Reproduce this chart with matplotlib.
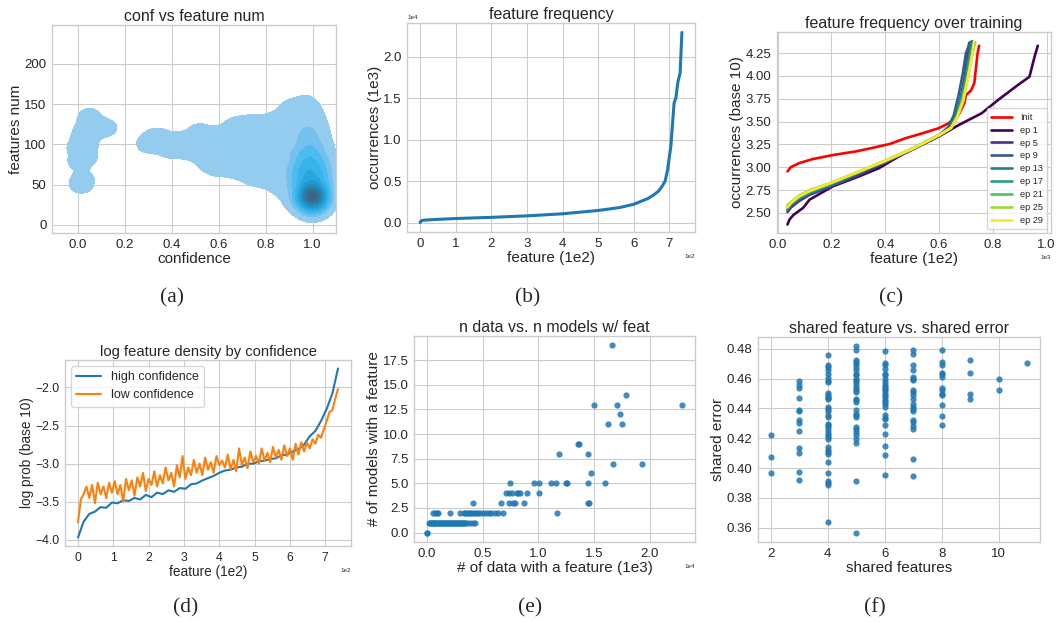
import numpy as np
import matplotlib
matplotlib.use('Agg')
import matplotlib.pyplot as plt
from matplotlib.ticker import MultipleLocator

# ---------------- data ----------------
# (a) conf vs feature num -- sample points for the density estimate
core_conf = [1.0, 0.99, 0.985, 0.97]
core_feat = [35, 60, 95, 140]
core_weight = [40, 10, 3, 0.5]
core_bw_conf = [0.035, 0.05, 0.045, 0.04]
core_bw_feat = [10, 18, 25, 15]
tail_conf = [0.30, 0.32, 0.34, 0.37, 0.40, 0.42, 0.45, 0.48, 0.49, 0.52, 0.53, 0.55, 0.57,
             0.59, 0.60, 0.62, 0.64, 0.65, 0.67, 0.69, 0.70, 0.71, 0.73, 0.75, 0.76, 0.77,
             0.78, 0.80, 0.81, 0.82, 0.83, 0.84, 0.86, 0.87, 0.88, 0.89, 0.90, 0.91, 0.93]
tail_feat = [99, 104, 111, 100, 92, 104, 96, 106, 90, 117, 98, 78, 108,
             70, 90, 113, 72, 98, 124, 66, 85, 108, 127, 58, 78, 100,
             118, 126, 55, 75, 98, 116, 133, 45, 65, 90, 115, 146, 30]
island_conf = [0.015, 0.02, 0.005, 0.035, 0.0, 0.04, 0.02, 0.045, 0.05, 0.09, 0.12]
island_feat = [48, 58, 78, 84, 96, 100, 112, 124, 136, 119, 121]

# (b) feature frequency
freq_feat = [0, 3, 10, 50, 100, 200, 300, 400, 500, 560, 600, 620, 640, 655, 670, 680,
             688, 695, 700, 704, 708, 713, 718, 724, 730, 733, 735]
freq_occ = [0, 200, 280, 380, 480, 620, 800, 1050, 1450, 1800, 2200, 2550, 2900, 3300, 3800,
            4400, 5000, 6400, 8000, 9200, 11500, 14400, 15000, 17000, 18000, 21000, 22900]

# (c) feature frequency over training (log10 occurrences)
init_x = [37, 49, 80, 129, 209, 289, 350, 418, 475, 537, 598, 635, 672, 694, 700, 719, 731, 743, 749]
init_y = [2.954, 3.00, 3.044, 3.088, 3.135, 3.172, 3.21, 3.255, 3.317, 3.37, 3.426, 3.48, 3.57,
          3.70, 3.79, 3.84, 3.92, 4.24, 4.33]
ep_labels = ['ep 1', 'ep 5', 'ep 9', 'ep 13', 'ep 17', 'ep 21', 'ep 25', 'ep 29']
ep_x = [
    [37, 45, 60, 95, 119, 205, 303, 377, 475, 598, 672, 758, 819, 893, 936, 955, 967],
    [37, 50, 80, 120, 200, 300, 400, 500, 600, 640, 660, 680, 695, 705, 712],
    [37, 50, 80, 120, 200, 300, 400, 500, 600, 635, 655, 672, 688, 700, 716],
    [37, 50, 80, 120, 200, 300, 400, 500, 600, 640, 662, 682, 698, 710, 722],
    [37, 50, 80, 120, 200, 300, 400, 500, 600, 642, 665, 685, 702, 715, 728],
    [37, 50, 80, 120, 200, 300, 400, 500, 600, 645, 668, 688, 706, 720, 734],
    [37, 50, 80, 120, 200, 300, 400, 500, 600, 645, 667, 689, 705, 719, 732],
    [37, 50, 80, 120, 200, 300, 400, 500, 600, 645, 668, 690, 706, 720, 730],
]
ep_y = [
    [2.373, 2.43, 2.48, 2.555, 2.645, 2.79, 2.90, 2.99, 3.16, 3.335, 3.46, 3.59, 3.735, 3.90, 3.99, 4.21, 4.33],
    [2.51, 2.56, 2.63, 2.70, 2.79, 2.91, 3.05, 3.19, 3.34, 3.43, 3.55, 3.75, 3.98, 4.20, 4.36],
    [2.53, 2.58, 2.65, 2.71, 2.80, 2.93, 3.06, 3.20, 3.35, 3.44, 3.57, 3.78, 4.02, 4.25, 4.37],
    [2.54, 2.59, 2.66, 2.72, 2.81, 2.94, 3.06, 3.20, 3.35, 3.43, 3.56, 3.76, 3.98, 4.20, 4.38],
    [2.56, 2.60, 2.67, 2.73, 2.82, 2.94, 3.07, 3.20, 3.35, 3.43, 3.56, 3.76, 3.98, 4.20, 4.37],
    [2.57, 2.61, 2.68, 2.74, 2.83, 2.95, 3.07, 3.20, 3.35, 3.43, 3.55, 3.75, 3.97, 4.19, 4.37],
    [2.585, 2.62, 2.69, 2.75, 2.83, 2.95, 3.07, 3.20, 3.35, 3.43, 3.55, 3.74, 3.96, 4.18, 4.37],
    [2.56, 2.61, 2.68, 2.74, 2.83, 2.95, 3.07, 3.20, 3.35, 3.43, 3.55, 3.72, 3.95, 4.17, 4.37],
]

# (d) log feature density by confidence (one value every 16 / 8 features)
high_conf = [-3.97, -3.76, -3.66, -3.63, -3.57, -3.58, -3.51, -3.52, -3.48, -3.49, -3.45, -3.47,
             -3.41, -3.44, -3.38, -3.40, -3.35, -3.37, -3.32, -3.33, -3.27, -3.26, -3.22, -3.19,
             -3.16, -3.12, -3.09, -3.08, -3.05, -3.04, -3.00, -3.00, -2.97, -2.96, -2.94, -2.93,
             -2.89, -2.88, -2.84, -2.81, -2.75, -2.64, -2.57, -2.44, -2.28, -2.08, -1.75]
low_conf = [-3.77, -3.47, -3.40, -3.30, -3.45, -3.28, -3.52, -3.25, -3.40, -3.30, -3.45, -3.25,
            -3.38, -3.23, -3.40, -3.28, -3.50, -3.20, -3.35, -3.22, -3.42, -3.18, -3.30, -3.12,
            -3.36, -3.20, -3.28, -3.10, -3.30, -3.15, -3.26, -3.05, -3.22, -3.12, -3.30, -3.02,
            -3.18, -2.90, -3.20, -3.05, -3.15, -2.95, -3.12, -3.00, -3.15, -2.92, -3.08, -2.98,
            -3.12, -2.90, -3.02, -2.96, -3.05, -2.88, -3.08, -2.95, -3.10, -2.80, -3.02, -2.92,
            -3.06, -2.84, -2.98, -2.90, -3.00, -2.80, -2.96, -2.86, -2.98, -2.78, -2.92, -2.82,
            -2.95, -2.76, -2.90, -2.80, -2.95, -2.74, -2.88, -2.72, -2.84, -2.72, -2.80, -2.68,
            -2.74, -2.62, -2.66, -2.55, -2.44, -2.32, -2.30, -2.15, -2.02]

# (e) n data vs n models w/ feat
n_models = [0, 1, 2, 3, 4, 5, 6, 7, 8, 9, 11, 12, 13, 14, 19]
n_data = [
    [0, 60],
    [240, 310, 380, 450, 520, 610, 690, 760, 850, 930, 1010, 1120, 1200, 1290, 1370, 1460,
     1540, 1650, 1720, 1810, 1900, 1980, 2090, 2160, 2250, 2330, 2440, 2510, 2600, 2690,
     2770, 2860, 2950, 3030, 3140, 3220, 3310, 3400, 3620, 3850, 4180, 4310],
    [540, 750, 930, 1050, 2100, 2940, 3300, 3450, 3600, 3750, 3900, 4050, 4200, 4400, 4600,
     4800, 5000, 5300, 5600, 5800, 6100, 6400, 6800, 11650],
    [4140, 6700, 7390, 7690, 7900, 8710, 14440, 14560],
    [7150, 7360, 7600, 8050, 8200, 8400, 8950, 10060],
    [7450, 9640, 10060, 11110, 11560, 12490, 12610, 14440, 16010],
    [14715],
    [16700, 19310],
    [11890, 14440],
    [13600, 13620],
    [16250, 17510],
    [17360],
    [14985, 17090, 22910],
    [17870],
    [16640],
]

# (f) shared feature vs shared error
shared_feats = [2, 3, 4, 5, 6, 7, 8, 9, 10, 11]
shared_errs = [
    [0.4225, 0.4075, 0.3966],
    [0.4581, 0.4559, 0.4537, 0.4468, 0.4390, 0.4381, 0.4320, 0.4303, 0.4249, 0.4135, 0.4104,
     0.3975, 0.3919],
    [0.4760, 0.4688, 0.4677, 0.4655, 0.4628, 0.4606, 0.4581, 0.4577, 0.4503, 0.4488, 0.4477,
     0.4470, 0.4461, 0.4407, 0.4394, 0.4383, 0.4354, 0.4343, 0.4298, 0.4287, 0.4276, 0.4258,
     0.4236, 0.4220, 0.4209, 0.4198, 0.4142, 0.4124, 0.4109, 0.4093, 0.4039, 0.3970, 0.3912,
     0.3901, 0.3885, 0.3636],
    [0.4816, 0.4789, 0.4722, 0.4711, 0.4700, 0.4677, 0.4655, 0.4633, 0.4622, 0.4599, 0.4588,
     0.4577, 0.4555, 0.4539, 0.4521, 0.4510, 0.4465, 0.4454, 0.4443, 0.4387, 0.4365, 0.4354,
     0.4343, 0.4276, 0.4265, 0.4242, 0.4220, 0.4198, 0.4169, 0.3912, 0.3567],
    [0.4784, 0.4704, 0.4688, 0.4666, 0.4633, 0.4622, 0.4599, 0.4577, 0.4555, 0.4543, 0.4532,
     0.4521, 0.4503, 0.4488, 0.4477, 0.4454, 0.4443, 0.4432, 0.4410, 0.4354, 0.4338, 0.4327,
     0.4287, 0.4231, 0.4146, 0.4086, 0.3952],
    [0.4789, 0.4767, 0.4688, 0.4655, 0.4610, 0.4599, 0.4588, 0.4521, 0.4510, 0.4488, 0.4465,
     0.4432, 0.4410, 0.4394, 0.4381, 0.4320, 0.4309, 0.4280, 0.4265, 0.4064, 0.3948],
    [0.4789, 0.4711, 0.4688, 0.4637, 0.4628, 0.4610, 0.4539, 0.4521, 0.4499, 0.4488, 0.4421,
     0.4347, 0.4291],
    [0.4722, 0.4637, 0.4499, 0.4465],
    [0.4599, 0.4526],
    [0.4704],
]

# ---------------- style ----------------
plt.style.use('seaborn-v0_8-whitegrid')
plt.rcParams['font.family'] = ['Liberation Sans', 'DejaVu Sans']
plt.rcParams['xtick.labelsize'] = 9.5
plt.rcParams['ytick.labelsize'] = 9.5
plt.rcParams['axes.labelsize'] = 11
plt.rcParams['axes.titlesize'] = 11.5
plt.rcParams['axes.titlepad'] = 3
plt.rcParams['axes.labelpad'] = 1
plt.rcParams['xtick.major.pad'] = 4
plt.rcParams['ytick.major.pad'] = 4

fig = plt.figure(figsize=(10.56, 6.22), dpi=100)
W, H = 1056, 622


def box(x0, y0, x1, y1):
    return fig.add_axes([x0 / W, 1 - y1 / H, (x1 - x0) / W, (y1 - y0) / H])


def sci(ax, axis):
    ax.ticklabel_format(axis=axis, style='sci', scilimits=(0, 0))
    if axis == 'x':
        ax.xaxis.get_offset_text().set_fontsize(4.5)
    else:
        ax.yaxis.get_offset_text().set_fontsize(4.5)


blue = '#1f77b4'

# (a)
ax = box(52, 25, 336, 233)
gx, gy = np.meshgrid(np.linspace(-0.11, 1.1, 500), np.linspace(-10, 248, 500))
dens = np.zeros_like(gx)
for cx, cy, w, bx, by in zip(core_conf, core_feat, core_weight, core_bw_conf, core_bw_feat):
    dens += w * np.exp(-0.5 * (((gx - cx) / bx) ** 2 + ((gy - cy) / by) ** 2))
for cx, cy in zip(tail_conf + island_conf, tail_feat + island_feat):
    dens += 0.6 * np.exp(-0.5 * (((gx - cx) / 0.035) ** 2 + ((gy - cy) / 7) ** 2))
kde_colors = ['#93ccef', '#74c1ef', '#4bbcf2', '#38b2ea', '#27a6de', '#1f9ad0',
              '#228ec0', '#2882af', '#2f769d', '#366c8c', '#3e6580']
ax.contourf(gx, gy, dens, levels=[0.3, 2, 4, 7, 11, 16, 21, 26, 31, 36, 41, 1e6],
            colors=kde_colors)
ax.set_xlim(-0.11, 1.1)
ax.set_ylim(-10, 248)
ax.xaxis.set_major_locator(MultipleLocator(0.2))
ax.yaxis.set_major_locator(MultipleLocator(50))
ax.set_title('conf vs feature num')
ax.set_xlabel('confidence')
ax.set_ylabel('features num')

# (b)
ax = box(407, 23, 695, 232)
ax.plot(freq_feat, freq_occ, color=blue, lw=2.2)
ax.set_title('feature frequency')
ax.set_xlabel('feature (1e2)')
ax.set_ylabel('occurrences (1e3)')
ax.yaxis.set_major_locator(MultipleLocator(5000))
ax.xaxis.set_major_locator(MultipleLocator(100))
sci(ax, 'x')
sci(ax, 'y')

# (c)
ax = box(777, 32, 1051, 233)
ax.plot(init_x, init_y, color='red', lw=1.9, label='Init')
ep_colors = plt.cm.viridis(np.linspace(0, 1, len(ep_labels)))
for xs, ys, lab, c in zip(ep_x, ep_y, ep_labels, ep_colors):
    ax.plot(xs, ys, color=c, lw=1.9, label=lab)
ax.set_xlim(-2, 1016)
ax.set_ylim(2.28, 4.48)
ax.xaxis.set_major_locator(MultipleLocator(200))
ax.yaxis.set_major_locator(MultipleLocator(0.25))
ax.set_title('feature frequency over training')
ax.set_xlabel('feature (1e2)')
ax.set_ylabel('occurrences (base 10)')
sci(ax, 'x')
ax.legend(loc='lower right', frameon=True, fontsize=6.6, labelspacing=0.42,
          handlelength=2.3, borderaxespad=0.4, borderpad=0.5, edgecolor='0.8')

# (d)
ax = box(65, 360, 351, 546)
ax.plot(np.arange(len(high_conf)) * 16, high_conf, color=blue, lw=1.5, label='high confidence')
ax.plot(np.arange(len(low_conf)) * 8, low_conf, color='#ff7f0e', lw=1.5, label='low confidence')
ax.set_title('log feature density by confidence', fontsize=10.6)
ax.set_xlabel('feature (1e2)', fontsize=9.8)
ax.set_ylabel('log prob (base 10)', fontsize=9.8)
ax.tick_params(labelsize=8.8)
ax.xaxis.set_major_locator(MultipleLocator(100))
ax.yaxis.set_major_locator(MultipleLocator(0.5))
sci(ax, 'x')
ax.legend(loc='upper left', frameon=True, fontsize=9, edgecolor='0.8')

# (e)
ax = box(414, 336, 695, 542)
for m, xs in zip(n_models, n_data):
    ax.scatter(xs, [m] * len(xs), s=20, color=blue, alpha=0.85, linewidths=0)
ax.set_title('n data vs. n models w/ feat')
ax.set_xlabel('# of data with a feature (1e3)')
ax.set_ylabel('# of models with a feature')
ax.xaxis.set_major_locator(MultipleLocator(5000))
ax.yaxis.set_major_locator(MultipleLocator(2.5))
sci(ax, 'x')

# (f)
ax = box(758, 337, 1040, 542)
for s, errs in zip(shared_feats, shared_errs):
    ax.scatter([s] * len(errs), errs, s=20, color=blue, alpha=0.85, linewidths=0)
ax.set_title('shared feature vs. shared error')
ax.set_xlabel('shared features')
ax.set_ylabel('shared error')
ax.xaxis.set_major_locator(MultipleLocator(2))
ax.yaxis.set_major_locator(MultipleLocator(0.02))

# captions
for lab, x, y in [('(a)', 172, 298), ('(b)', 528, 298), ('(c)', 891, 298),
                  ('(d)', 186, 608), ('(e)', 530, 608), ('(f)', 875, 608)]:
    fig.text(x / W, 1 - y / H, lab, ha='center', va='center', fontsize=15.5,
             family=['Liberation Serif', 'DejaVu Serif'])

fig.savefig('out.png', dpi=100)
